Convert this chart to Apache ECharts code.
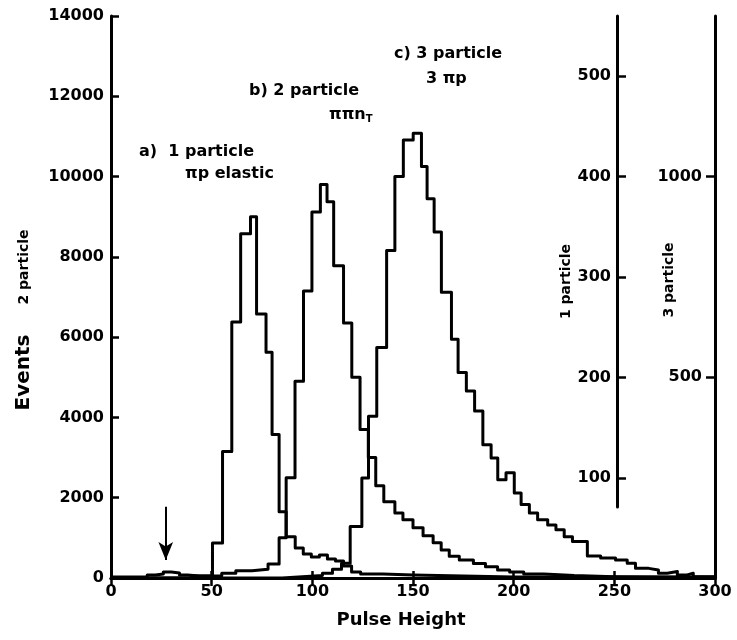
<!DOCTYPE html>
<html><head><meta charset="utf-8">
<script src="https://cdn.jsdelivr.net/npm/echarts@6/dist/echarts.min.js"></script>
<style>html,body{margin:0;padding:0;background:#fff}#c{width:737px;height:640px}</style>
</head><body><div id="c"></div>
<script>
// ---- data ----
// x ticks (Pulse Height) and axis tick labels
const xTicks = [0, 50, 100, 150, 200, 250, 300];
const eventsTicks = [0, 2000, 4000, 6000, 8000, 10000, 12000, 14000];
const oneParticleTicks = [100, 200, 300, 400, 500];
const threeParticleTicks = [500, 1000];

// a) 1 particle (pi p elastic) : left bin edges and counts (1-particle scale)
const oneEdges = [0, 18, 22, 26, 30, 34, 38, 44, 50.4, 55.4, 60, 64.4, 69.3, 72.3, 77, 80, 83.5, 87,
  91.5, 95.5, 99.5, 103.5, 107.5, 111.5, 115.5, 119.5, 124, 135, 150, 175, 200, 300];
const oneCounts = [1, 3, 4, 6, 5, 3, 2, 2, 35, 126, 255, 343, 360, 263, 225, 143, 66, 41,
  30, 24, 21, 23, 19, 17, 12, 6, 4, 3, 2, 1, 1];

// b) 2 particle (pi pi n_T) : left bin edges and counts (Events / 2 particle scale)
const twoEdges = [0, 40, 55, 62, 70, 78, 83.5, 87, 91.4, 95.6, 99.8, 104, 107.3, 110.6, 115.5, 119.6,
  123.7, 127.8, 131.5, 135.5, 141, 145, 150, 155, 160, 164, 168, 173, 180, 186, 192, 198, 205, 215,
  230, 250, 300];
const twoCounts = [0, 50, 120, 180, 220, 350, 1000, 2500, 4900, 7150, 9120, 9800, 9370, 7780, 6350,
  5000, 3700, 3000, 2300, 1900, 1620, 1450, 1250, 1050, 880, 700, 540, 450, 360, 280, 200, 150, 100,
  60, 30, 10];

// c) 3 particle (3 pi p) : left bin edges and counts (3-particle scale)
const threeEdges = [0, 85, 95, 105, 110, 114.5, 118.8, 124.6, 127.9, 132, 136.9, 141, 145.2, 150.1,
  154.2, 157, 160.5, 164.1, 169.1, 172.4, 176.5, 180.6, 184.7, 188.8, 192.1, 196.2, 200.3, 203.7, 207.8,
  211.9, 216.9, 221, 225.1, 229.2, 236.6, 243.2, 250.6, 256.4, 260.5, 267.1, 271.9, 276.3, 281.3,
  286.2, 289.2, 300];
const threeCounts = [0, 3, 6, 12, 22, 37, 128, 249, 403, 574, 816, 1000, 1091, 1108, 1025, 945, 862,
  712, 595, 512, 466, 416, 332, 299, 245, 262, 212, 183, 162, 145, 132, 120, 103, 91, 55, 50, 45, 37,
  24, 20, 12, 16, 7.5, 12, 3];

// arrow marker (Pulse Height, Events from -> to)
const arrowX = 27.2;
const arrowFrom = 1775;
const arrowTo = 450;

// ---- build ----
function stepPoints(edges, counts) {
  return edges.map((e, i) => [e, i < counts.length ? counts[i] : counts[counts.length - 1]]);
}
const FONT = 'DejaVu Sans';
const plain = (v) => String(v);
const txt = (size) => ({ color: '#000', fontFamily: FONT, fontWeight: 'bold', fontSize: size });
const axisLineStyle = { show: true, lineStyle: { color: '#000', width: 3 } };
const tickStyle = { color: '#000', width: 2.5 };
const histLine = { color: '#000', width: 3, join: 'round' };
const annFont = 'bold 16px "DejaVu Sans"';

const chart = echarts.init(document.getElementById('c'), null, { renderer: 'canvas' });
chart.setOption({
  animation: false,
  backgroundColor: '#fff',
  grid: [
    { left: 111, right: 22, top: 16, bottom: 62 },
    { left: 617, width: 10, top: 16, bottom: 133 }
  ],
  xAxis: [
    { type: 'value', gridIndex: 0, min: xTicks[0], max: xTicks[xTicks.length - 1], interval: 50,
      position: 'bottom', axisLine: axisLineStyle,
      axisTick: { show: true, inside: true, length: 7, lineStyle: tickStyle },
      axisLabel: Object.assign(txt(16), { margin: 6, formatter: plain }),
      splitLine: { show: false },
      name: 'Pulse Height', nameLocation: 'middle', nameGap: 33,
      nameTextStyle: Object.assign(txt(18), { padding: [0, 24, 0, 0] }) },
    { type: 'value', gridIndex: 0, min: 0, max: 300, interval: 50, position: 'top',
      axisLine: axisLineStyle,
      axisTick: { show: true, inside: true, length: 8, lineStyle: tickStyle },
      axisLabel: { show: false }, splitLine: { show: false } },
    { type: 'value', gridIndex: 1, min: 0, max: 1, show: false }
  ],
  yAxis: [
    { type: 'value', gridIndex: 0, min: eventsTicks[0], max: eventsTicks[eventsTicks.length - 1], interval: 2000,
      position: 'left', axisLine: axisLineStyle,
      axisTick: { show: true, inside: true, length: 8, lineStyle: tickStyle },
      axisLabel: Object.assign(txt(16), { margin: 7, formatter: plain }),
      splitLine: { show: false },
      name: '{a|Events}{g|}{b|2 particle}', nameLocation: 'middle', nameRotate: 90, nameGap: 77,
      nameTextStyle: { padding: [0, 46, 0, 0], rich: { a: txt(20), g: { width: 30 }, b: txt(14) } } },
    { type: 'value', gridIndex: 0, min: 0, max: 560, position: 'right', show: false },
    { type: 'value', gridIndex: 0, min: 0, max: 1400, position: 'right',
      axisLine: axisLineStyle,
      axisTick: { show: true, inside: true, length: 9, lineStyle: tickStyle, customValues: threeParticleTicks },
      axisLabel: Object.assign(txt(16), { inside: true, margin: 13, formatter: plain, customValues: threeParticleTicks }),
      splitLine: { show: false } },
    { type: 'value', gridIndex: 1, min: 71, max: 560, position: 'left',
      axisLine: axisLineStyle,
      axisTick: { show: true, inside: true, length: 9, lineStyle: tickStyle, customValues: oneParticleTicks },
      axisLabel: Object.assign(txt(16), { margin: 6, formatter: plain, customValues: oneParticleTicks }),
      splitLine: { show: false },
      name: '1 particle', nameLocation: 'middle', nameRotate: 90, nameGap: 40,
      nameTextStyle: Object.assign(txt(14), { padding: [0, 40, 0, 0] }) }
  ],
  graphic: [
    { type: 'text', x: 669, y: 280, rotation: Math.PI / 2,
      style: { text: '3 particle', font: 'bold 14px "DejaVu Sans"', fill: '#000', align: 'center', verticalAlign: 'middle' } },
    { type: 'text', x: 139, y: 144, style: { text: 'a)  1 particle', font: annFont, fill: '#000' } },
    { type: 'text', x: 185, y: 166, style: { text: 'πp elastic', font: annFont, fill: '#000' } },
    { type: 'text', x: 249, y: 83, style: { text: 'b) 2 particle', font: annFont, fill: '#000' } },
    { type: 'text', x: 329, y: 105, style: { text: '{n|ππn}{s|T}', rich: { n: { font: annFont, fill: '#000' }, s: { font: 'bold 10px "DejaVu Sans"', fill: '#000', padding: [9, 0, 0, 0] } } } },
    { type: 'text', x: 394, y: 46, style: { text: 'c) 3 particle', font: annFont, fill: '#000' } },
    { type: 'text', x: 426, y: 71, style: { text: '3 πp', font: annFont, fill: '#000' } }
  ],
  series: [
    { name: '1 particle', type: 'line', xAxisIndex: 0, yAxisIndex: 1, step: 'end', showSymbol: false,
      lineStyle: histLine, data: stepPoints(oneEdges, oneCounts) },
    { name: '2 particle', type: 'line', xAxisIndex: 0, yAxisIndex: 0, step: 'end', showSymbol: false,
      lineStyle: histLine, data: stepPoints(twoEdges, twoCounts),
      markLine: { silent: true, symbol: ['none', 'arrow'], symbolSize: [11, 18], label: { show: false },
        lineStyle: { color: '#000', width: 2, type: 'solid' },
        data: [[{ coord: [arrowX, arrowFrom] }, { coord: [arrowX, arrowTo] }]] } },
    { name: '3 particle', type: 'line', xAxisIndex: 0, yAxisIndex: 2, step: 'end', showSymbol: false,
      lineStyle: histLine, data: stepPoints(threeEdges, threeCounts) }
  ]
});
</script></body></html>
